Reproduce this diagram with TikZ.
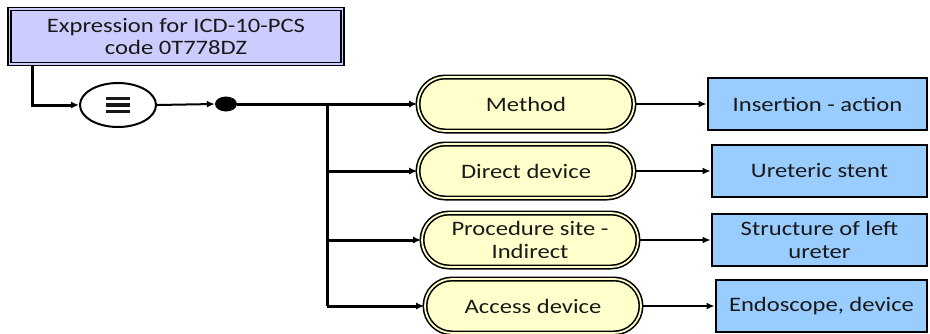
\documentclass[tikz,border=0pt]{standalone}
\usepackage{fontspec}
\setmainfont{Carlito}[FakeStretch=1.2]
\usetikzlibrary{shapes.misc,shapes.geometric,arrows.meta}
\definecolor{exprfill}{RGB}{204,204,255}
\definecolor{attrfill}{RGB}{255,255,204}
\definecolor{valfill}{RGB}{153,204,255}
\definecolor{txt}{RGB}{25,25,25}
\begin{document}
\begin{tikzpicture}[x=1pt,y=-1pt,
  font=\fontsize{20.5}{22.5}\selectfont,
  every node/.style={text=txt, align=center, inner sep=0pt},
  exprbox/.style={rectangle, draw=black, fill=exprfill, line width=1.6pt,
    double=exprfill, double distance=1.6pt, minimum width=333pt, minimum height=55pt},
  attr/.style={rounded rectangle, draw=black, fill=attrfill, line width=1.6pt,
    double=attrfill, double distance=1.8pt, minimum width=216pt, minimum height=54pt},
  valbox/.style={rectangle, draw=black, fill=valfill, line width=2.8pt, minimum height=52pt},
  tree/.style={draw=black, line width=3pt},
  arr/.style={draw=black, line width=2pt, -{Latex[length=8pt,width=7pt]}},
  treearr/.style={tree, -{Latex[length=8pt,width=7pt]}}]
\useasboundingbox (0,0) rectangle (930,333);

% expression header
\node[exprbox] (expr) at (176,36.5) {Expression for ICD-10-PCS\\code 0T778DZ};

% equivalence operator and conjunction point
\node[ellipse, draw=black, line width=2pt, fill=white, minimum width=76pt, minimum height=44pt] (eq) at (118,105)
  {\vbox{\hrule width 24pt height 3.2pt\vskip 3pt\hrule width 24pt height 3.2pt\vskip 3pt\hrule width 24pt height 3.2pt}};
\node[ellipse, fill=black, minimum width=22pt, minimum height=15pt] (dot) at (226,104) {};

\coordinate (drop) at (32,65);
\coordinate (trunk) at (327,104);
\coordinate (trunkend) at (327,306);

% attributes
\node[attr] (m1) at (526,104) {Method};
\node[attr] (m2) at (526,171) {Direct device};
\node[attr] (m3) at (530,240) {Procedure site -\\Indirect};
\node[attr] (m4) at (533,306) {Access device};

% values
\node[valbox, minimum width=219pt] (v1) at (817.5,104) {Insertion - action};
\node[valbox, minimum width=215pt] (v2) at (819.5,171) {Ureteric stent};
\node[valbox, minimum width=215pt] (v3) at (819.5,240) {Structure of left\\ureter};
\node[valbox, minimum width=211pt] (v4) at (821.5,306) {Endoscope, device};

% connectors
\draw[treearr] (drop) |- (eq.west);
\draw[arr] (eq.east) -- (dot.west);
\draw[tree] (dot.east) -- (trunk) -- (trunkend);
\draw[treearr] (trunk) -- (m1.west);
\draw[treearr] (m2.west -| trunk) -- (m2.west);
\draw[treearr] (m3.west -| trunk) -- (m3.west);
\draw[treearr] (trunkend) -- (m4.west);
\draw[arr] (m1.east) -- (v1.west);
\draw[arr] (m2.east) -- (v2.west);
\draw[arr] (m3.east) -- (v3.west);
\draw[arr] (m4.east) -- (v4.west);
\end{tikzpicture}
\end{document}
